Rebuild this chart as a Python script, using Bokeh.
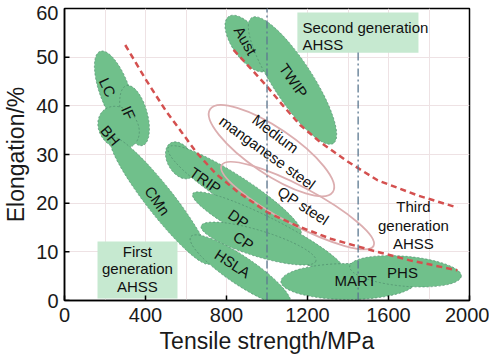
import numpy as np
from bokeh.plotting import figure
from bokeh.models import ColumnDataSource, FixedTicker, SingleIntervalTicker
from bokeh.core.properties import value
from bokeh.embed import file_html
from bokeh.resources import INLINE

FONT = "Liberation Sans"

# ---------------- data ----------------
x_ticks = [0, 400, 800, 1200, 1600, 2000]
y_ticks = [0, 10, 20, 30, 40, 50, 60]

# green steel families: centre tensile strength (MPa) and centre elongation (%)
grade_names = ["LC", "IF", "BH", "CMn", "HSLA", "TRIP-a", "TRIP", "DP", "CP", "MART", "PHS", "Aust", "TWIP"]
grade_ts = [247, 346, 267, 474, 869, 573, 840, 1007, 958, 1402, 1684, 904, 1126]
grade_el = [43.1, 38.0, 35.5, 20.5, 6.2, 28.8, 22.6, 14.0, 11.7, 3.9, 6.0, 52.8, 45.2]

# third-generation families (outlined)
third_names = ["Medium manganese steel", "QP steel"]
third_ts = [1022, 1151]
third_el = [30.8, 19.5]

# family labels
label_names = ["LC", "IF", "BH", "CMn", "TRIP", "DP", "CP", "HSLA", "Aust", "TWIP", "MART", "PHS"]
label_ts = [212, 316, 227, 459, 696, 859, 884, 830, 894, 1131, 1437, 1669]
label_el = [43.8, 38.6, 33.9, 20.5, 24.7, 16.8, 12.3, 7.6, 53.4, 45.2, 4.1, 5.75]

# red dashed boundaries of the third-generation window
lower_ts = [300, 400, 500, 573, 650, 746, 850, 1002, 1150, 1314, 1500, 1700, 1940]
lower_el = [52.5, 45.5, 39.0, 34.9, 30.5, 26.1, 22.5, 18.1, 15.3, 12.7, 10.5, 8.3, 6.2]
upper_ts = [835, 919, 1000, 1080, 1165, 1264, 1400, 1546, 1750, 1940]
upper_el = [51.5, 47.7, 44.0, 40.0, 36.0, 32.5, 28.5, 24.7, 21.5, 19.1]

# vertical dash-dot strength markers
marker_ts = [1000, 1450]
marker_top = [60, 51]

# ---------------- styles ----------------
grade_len = [84, 62, 46, 160, 120, 40, 158, 170, 120, 135, 112, 66, 150]
grade_thk = [30, 26, 38, 28, 28, 26, 30, 28, 26, 36, 30, 30, 40]
grade_ang = [-70, -75, -50, -52, -34, -60, -33, -27, -17, 0, -5, -55, -57]
third_len = [148, 172]
third_thk = [46, 38]
third_ang = [-34, -28]
label_ang = [-65, -65, -50, -55, -35, -35, -35, -33, -60, -55, 0, 0]

GREEN = "#70c08b"
GREEN_EDGE = "#4e8a6c"
BOX = "#c6e9d0"
RED = "#d4504f"
PINK = "#dcaeb0"
DASHDOT = "#5b7890"

p = figure(frame_width=405, frame_height=292, x_range=(0, 2000), y_range=(0, 60),
           output_backend="svg", toolbar_location=None,
           min_border_left=56, min_border_right=20, min_border_top=8, min_border_bottom=50,
           margin=(0, 0, -8, 0))
p.background_fill_color = "white"
p.border_fill_color = "white"
p.outline_line_color = "black"
p.outline_line_width = 1.5
p.outline_line_alpha = 1

# axes
for ax in (p.xaxis, p.yaxis):
    ax.axis_line_color = "black"
    ax.axis_line_width = 1.5
    ax.major_tick_in = 5
    ax.major_tick_out = 0
    ax.major_tick_line_color = "black"
    ax.major_tick_line_width = 1.5
    ax.minor_tick_line_color = None
    ax.major_label_text_font = FONT
    ax.major_label_text_font_size = "20px"
    ax.major_label_text_color = "#1a1a1a"
    ax.axis_label_text_font = FONT
    ax.axis_label_text_font_size = "23px"
    ax.axis_label_text_font_style = "normal"
    ax.axis_label_text_color = "#1a1a1a"
p.xaxis.ticker = FixedTicker(ticks=x_ticks)
# the top y label sits just below the frame corner, as in the original
top_label_pos = y_ticks[-1] - 1
p.yaxis.ticker = FixedTicker(ticks=y_ticks[:-1] + [top_label_pos])
p.yaxis.major_label_overrides = {top_label_pos: str(y_ticks[-1])}
p.yaxis.major_tick_in = 0
p.xaxis.axis_label = "Tensile strength/MPa"
p.yaxis.axis_label = "Elongation/%"
p.xaxis.major_label_standoff = 7
p.yaxis.major_label_standoff = 6
p.xaxis.axis_label_standoff = 3
p.yaxis.axis_label_standoff = 4

p.xgrid.ticker = SingleIntervalTicker(interval=200)
p.ygrid.ticker = SingleIntervalTicker(interval=10)
p.xgrid.grid_line_color = "#eee2e4"
p.ygrid.grid_line_color = "#eee2e4"
p.xgrid.grid_line_width = 1
p.ygrid.grid_line_width = 1

# y tick marks (inside the frame)
p.scatter(x=[0] * (len(y_ticks) - 1), y=y_ticks[:-1], marker="dash", size=10,
          line_color="black", line_width=1.5)

# generation boxes
p.quad(left=[163], right=[558], bottom=[0.4], top=[12.1], fill_color=BOX, line_color=None)
p.quad(left=[1150], right=[1748], bottom=[50.9], top=[59.2], fill_color=BOX, line_color=None)

# green families
gsrc = ColumnDataSource(dict(x=grade_ts, y=grade_el, w=grade_len, h=grade_thk, a=grade_ang))
p.ellipse(x="x", y="y", width="w", height="h", angle="a", angle_units="deg",
          width_units="screen", height_units="screen", source=gsrc,
          fill_color=GREEN, fill_alpha=1, line_color=GREEN_EDGE, line_dash="2 2",
          line_width=1, line_alpha=0.7)

# third-generation outlined families
tsrc = ColumnDataSource(dict(x=third_ts, y=third_el, w=third_len, h=third_thk, a=third_ang))
p.ellipse(x="x", y="y", width="w", height="h", angle="a", angle_units="deg",
          width_units="screen", height_units="screen", source=tsrc,
          fill_color=None, line_color=PINK, line_width=1.8)

# boundaries
p.line(lower_ts, lower_el, line_color=RED, line_width=2.5, line_dash="6 4")
p.line(upper_ts, upper_el, line_color=RED, line_width=2.5, line_dash="6 4")

# dash-dot markers
p.segment(x0=marker_ts, y0=[0, 0], x1=marker_ts, y1=marker_top,
          line_color=DASHDOT, line_width=1.3, line_dash="8 3 2 3")

# family labels
lsrc = ColumnDataSource(dict(x=label_ts, y=label_el, t=label_names, a=label_ang))
p.text(x="x", y="y", text="t", angle="a", angle_units="deg", source=lsrc,
       text_font=value(FONT), text_font_size="15px", text_color="#111111",
       text_align="center", text_baseline="middle")

# third-gen family labels
p.text(x=[1042, 1002, 1180], y=[34.3, 30.4, 19.5],
       text=["Medium", "manganese steel", "QP steel"],
       angle=[-37, -36, -33], angle_units="deg",
       text_font=value(FONT), text_font_size="15px", text_color="#111111",
       text_align="center", text_baseline="middle")

# generation captions
p.text(x=[1723, 1723, 1723], y=[19.3, 15.5, 11.8],
       text=["Third", "generation", "AHSS"],
       text_font=value(FONT), text_font_size="15px", text_color="#111111",
       text_align="center", text_baseline="middle")
p.text(x=[360, 360, 360], y=[10.1, 6.6, 2.9],
       text=["First", "generation", "AHSS"],
       text_font=value(FONT), text_font_size="15px", text_color="#111111",
       text_align="center", text_baseline="middle")
p.text(x=[1175, 1175], y=[56.1, 52.7],
       text=["Second generation", "AHSS"],
       text_font=value(FONT), text_font_size="15px", text_color="#111111",
       text_align="left", text_baseline="middle")

open("out.html", "w").write(file_html(p, INLINE))
